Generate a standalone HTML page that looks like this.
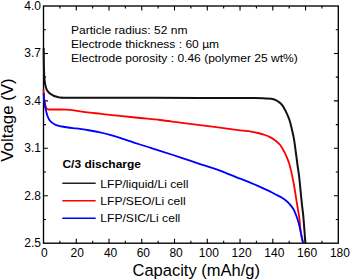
<!DOCTYPE html>
<html><head><meta charset="utf-8"><style>
html,body{margin:0;padding:0;background:#fff;}
body{width:350px;height:280px;overflow:hidden;position:relative;}
svg{position:absolute;left:0;top:0;}
text{font-family:"Liberation Sans",sans-serif;fill:#000;}
</style></head><body>
<svg width="350" height="280" viewBox="0 0 350 280">
<g font-size="12"><text x="44.40" y="256.8" text-anchor="middle">0</text><text x="77.16" y="256.8" text-anchor="middle">20</text><text x="110.61" y="256.8" text-anchor="middle">40</text><text x="143.37" y="256.8" text-anchor="middle">60</text><text x="176.12" y="256.8" text-anchor="middle">80</text><text x="208.88" y="256.8" text-anchor="middle">100</text><text x="241.63" y="256.8" text-anchor="middle">120</text><text x="274.39" y="256.8" text-anchor="middle">140</text><text x="307.14" y="256.8" text-anchor="middle">160</text><text x="339.90" y="256.8" text-anchor="middle">180</text><text x="40.9" y="9.50" text-anchor="end">4.0</text><text x="40.9" y="57.44" text-anchor="end">3.7</text><text x="40.9" y="104.88" text-anchor="end">3.4</text><text x="40.9" y="152.32" text-anchor="end">3.1</text><text x="40.9" y="199.76" text-anchor="end">2.8</text><text x="40.9" y="247.20" text-anchor="end">2.5</text></g>
<text transform="translate(196.2,275.6) scale(1.013,1)" font-size="16.3" text-anchor="middle">Capacity (mAh/g)</text>
<text transform="translate(13.0,120) rotate(-90) scale(1.035,1)" font-size="16.3" text-anchor="middle">Voltage (V)</text>
<g font-size="11.5">
<text transform="translate(71.0,33.5) scale(1.048,1)" >Particle radius: 52 nm</text>
<text transform="translate(71.0,47.8) scale(1.048,1)" >Electrode thickness : 60 &#181;m</text>
<text transform="translate(71.0,61.5) scale(1.048,1)" >Electrode porosity : 0.46 (polymer 25 wt%)</text>
</g>
<text transform="translate(62.4,167.9) scale(1.062,1)" font-size="11.3" font-weight="bold">C/3 discharge</text>
<g font-size="11.5">
<text transform="translate(100.3,187.6) scale(1.052,1)" >LFP/liquid/Li cell</text>
<text transform="translate(100.3,205.0) scale(1.052,1)" >LFP/SEO/Li cell</text>
<text transform="translate(100.3,222.4) scale(1.052,1)" >LFP/SIC/Li cell</text>
</g>
<g stroke-width="1.6" fill="none">
<path d="M62.3,183.2H95.7" stroke="#222"/>
<path d="M62.3,200.7H95.7" stroke="#f00"/>
<path d="M62.3,218.3H95.7" stroke="#00f"/>
</g>
<rect x="43.5" y="6.0" width="294.8" height="237.2" fill="none" stroke="#000" stroke-width="1.35"/>
<path d="M59.88,243.2v-2.5M59.88,6.0v2.5M76.26,243.2v-4.4M76.26,6.0v4.4M92.63,243.2v-2.5M92.63,6.0v2.5M109.01,243.2v-4.4M109.01,6.0v4.4M125.39,243.2v-2.5M125.39,6.0v2.5M141.77,243.2v-4.4M141.77,6.0v4.4M158.14,243.2v-2.5M158.14,6.0v2.5M174.52,243.2v-4.4M174.52,6.0v4.4M190.90,243.2v-2.5M190.90,6.0v2.5M207.28,243.2v-4.4M207.28,6.0v4.4M223.66,243.2v-2.5M223.66,6.0v2.5M240.03,243.2v-4.4M240.03,6.0v4.4M256.41,243.2v-2.5M256.41,6.0v2.5M272.79,243.2v-4.4M272.79,6.0v4.4M289.17,243.2v-2.5M289.17,6.0v2.5M305.54,243.2v-4.4M305.54,6.0v4.4M321.92,243.2v-2.5M321.92,6.0v2.5M43.5,219.48h2.5M338.3,219.48h-2.5M43.5,195.76h4.4M338.3,195.76h-4.4M43.5,172.04h2.5M338.3,172.04h-2.5M43.5,148.32h4.4M338.3,148.32h-4.4M43.5,124.60h2.5M338.3,124.60h-2.5M43.5,100.88h4.4M338.3,100.88h-4.4M43.5,77.16h2.5M338.3,77.16h-2.5M43.5,53.44h4.4M338.3,53.44h-4.4M43.5,29.72h2.5M338.3,29.72h-2.5" stroke="#000" stroke-width="1.1" fill="none"/>
<g fill="none" stroke-width="1.8" stroke-linejoin="round">
<path d="M43.70,48.00 C43.72,50.00 43.75,56.33 43.80,60.00 C43.85,63.67 43.90,67.00 44.00,70.00 C44.10,73.00 44.22,75.67 44.40,78.00 C44.58,80.33 44.82,82.33 45.10,84.00 C45.38,85.67 45.72,86.88 46.10,88.00 C46.48,89.12 46.95,89.95 47.40,90.70 C47.85,91.45 48.28,91.97 48.80,92.50 C49.32,93.03 49.88,93.47 50.50,93.90 C51.12,94.33 51.75,94.70 52.50,95.10 C53.25,95.50 54.00,95.95 55.00,96.30 C56.00,96.65 57.00,96.97 58.50,97.20 C60.00,97.43 57.08,97.60 64.00,97.70 C70.92,97.80 77.33,97.77 100.00,97.80 C122.67,97.83 174.17,97.85 200.00,97.90 C225.83,97.95 244.17,98.00 255.00,98.10 C265.83,98.20 261.90,98.30 265.00,98.50 C268.10,98.70 271.32,98.73 273.60,99.30 C275.88,99.87 277.23,100.88 278.70,101.90 C280.17,102.92 281.22,103.82 282.40,105.40 C283.58,106.98 284.63,109.00 285.80,111.40 C286.97,113.80 288.40,116.87 289.40,119.80 C290.40,122.73 291.05,125.87 291.80,129.00 C292.55,132.13 293.25,134.87 293.90,138.60 C294.55,142.33 295.10,147.00 295.70,151.40 C296.30,155.80 296.92,160.73 297.50,165.00 C298.08,169.27 298.70,172.83 299.20,177.00 C299.70,181.17 300.03,185.33 300.50,190.00 C300.97,194.67 301.55,200.83 302.00,205.00 C302.45,209.17 302.80,210.83 303.20,215.00 C303.60,219.17 304.05,225.33 304.40,230.00 C304.75,234.67 305.15,240.83 305.30,243.00" stroke="#111" stroke-width="2"/>
<path d="M43.60,89.60 C43.63,90.17 43.70,91.60 43.80,93.00 C43.90,94.40 44.03,96.42 44.20,98.00 C44.37,99.58 44.58,101.17 44.80,102.50 C45.02,103.83 45.25,105.08 45.50,106.00 C45.75,106.92 45.97,107.47 46.30,108.00 C46.63,108.53 47.05,108.95 47.50,109.20 C47.95,109.45 47.92,109.45 49.00,109.50 C50.08,109.55 52.17,109.50 54.00,109.50 C55.83,109.50 58.00,109.47 60.00,109.50 C62.00,109.53 63.67,109.55 66.00,109.70 C68.33,109.85 71.67,110.13 74.00,110.40 C76.33,110.67 77.33,110.93 80.00,111.30 C82.67,111.67 86.67,112.20 90.00,112.60 C93.33,113.00 96.67,113.32 100.00,113.70 C103.33,114.08 106.67,114.53 110.00,114.90 C113.33,115.27 115.00,115.38 120.00,115.90 C125.00,116.42 133.33,117.32 140.00,118.00 C146.67,118.68 153.33,119.23 160.00,120.00 C166.67,120.77 173.33,121.75 180.00,122.60 C186.67,123.45 193.33,124.25 200.00,125.10 C206.67,125.95 213.33,126.83 220.00,127.70 C226.67,128.57 235.00,129.68 240.00,130.30 C245.00,130.92 247.00,130.95 250.00,131.40 C253.00,131.85 255.50,132.40 258.00,133.00 C260.50,133.60 263.00,134.32 265.00,135.00 C267.00,135.68 268.33,136.23 270.00,137.10 C271.67,137.97 273.33,138.92 275.00,140.20 C276.67,141.48 278.45,142.85 280.00,144.80 C281.55,146.75 283.12,149.72 284.30,151.90 C285.48,154.08 286.27,155.88 287.10,157.90 C287.93,159.92 288.65,161.92 289.30,164.00 C289.95,166.08 290.22,166.90 291.00,170.40 C291.78,173.90 293.23,180.90 294.00,185.00 C294.77,189.10 295.07,191.67 295.60,195.00 C296.13,198.33 296.65,201.67 297.20,205.00 C297.75,208.33 298.47,212.17 298.90,215.00 C299.33,217.83 299.57,219.83 299.80,222.00 C300.03,224.17 300.02,225.67 300.30,228.00 C300.58,230.33 301.05,233.50 301.50,236.00 C301.95,238.50 302.75,241.83 303.00,243.00" stroke="#ff0000"/>
<path d="M43.60,93.00 C43.65,93.83 43.80,96.58 43.90,98.00 C44.00,99.42 44.07,100.33 44.20,101.50 C44.33,102.67 44.40,103.52 44.70,105.00 C45.00,106.48 45.55,108.62 46.00,110.40 C46.45,112.18 46.80,114.07 47.40,115.70 C48.00,117.33 48.78,119.00 49.60,120.20 C50.42,121.40 51.18,122.07 52.30,122.90 C53.42,123.73 54.68,124.60 56.30,125.20 C57.92,125.80 60.05,126.12 62.00,126.50 C63.95,126.88 65.83,127.20 68.00,127.50 C70.17,127.80 73.00,128.07 75.00,128.30 C77.00,128.53 77.50,128.53 80.00,128.90 C82.50,129.27 86.67,129.92 90.00,130.50 C93.33,131.08 96.67,131.67 100.00,132.40 C103.33,133.13 106.67,133.98 110.00,134.90 C113.33,135.82 116.67,136.85 120.00,137.90 C123.33,138.95 126.67,140.10 130.00,141.20 C133.33,142.30 136.67,143.43 140.00,144.50 C143.33,145.57 146.67,146.55 150.00,147.60 C153.33,148.65 155.00,149.18 160.00,150.80 C165.00,152.42 173.33,155.08 180.00,157.30 C186.67,159.52 193.33,161.88 200.00,164.10 C206.67,166.32 214.00,168.43 220.00,170.60 C226.00,172.77 231.67,175.40 236.00,177.10 C240.33,178.80 242.67,179.47 246.00,180.80 C249.33,182.13 252.67,183.63 256.00,185.10 C259.33,186.57 263.33,188.37 266.00,189.60 C268.67,190.83 270.17,191.58 272.00,192.50 C273.83,193.42 275.33,194.22 277.00,195.10 C278.67,195.98 280.33,196.73 282.00,197.80 C283.67,198.87 285.58,200.28 287.00,201.50 C288.42,202.72 289.42,203.80 290.50,205.10 C291.58,206.40 292.58,207.65 293.50,209.30 C294.42,210.95 295.23,213.03 296.00,215.00 C296.77,216.97 297.50,219.12 298.10,221.10 C298.70,223.08 299.03,224.42 299.60,226.90 C300.17,229.38 300.92,233.32 301.50,236.00 C302.08,238.68 302.83,241.83 303.10,243.00" stroke="#0000ff"/>
</g>
</svg>
</body></html>
